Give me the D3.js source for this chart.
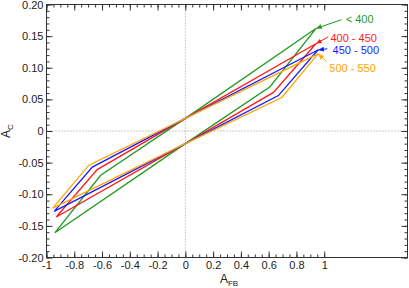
<!DOCTYPE html>
<html>
<head>
<meta charset="utf-8">
<script src="https://cdn.jsdelivr.net/npm/d3@7"></script>
<style>
  body { margin: 0; background: #fff; }
  svg text { font-family: "Liberation Sans", Arial, sans-serif; }
</style>
</head>
<body>
<div id="chart"></div>
<script>
// series names and loop points [A_FB, A_C]
var series_names = ['< 400', '400 - 450', '450 - 500', '500 - 550'];
var loop_lt400 = [[-0.94, -0.161], [-0.61, -0.070], [0, 0.02], [0.94, 0.162], [0.61, 0.070], [0, -0.02], [-0.94, -0.161]];
var loop_400_450 = [[-0.93, -0.136], [-0.635, -0.061], [0, 0.02], [0.94, 0.138], [0.635, 0.061], [0, -0.02], [-0.93, -0.136]];
var loop_450_500 = [[-0.945, -0.127], [-0.67, -0.057], [0, 0.02], [0.955, 0.128], [0.67, 0.056], [0, -0.02], [-0.945, -0.127]];
var loop_500_550 = [[-0.955, -0.122], [-0.695, -0.054], [0, 0.02], [0.955, 0.122], [0.695, 0.053], [0, -0.02], [-0.955, -0.122]];

// label positions and arrow tails (data units); arrow heads point at each loop's upper-right corner
var label_pos = [[1.155, 0.171], [1.045, 0.141], [1.06, 0.121], [1.037, 0.094]];
var arrow_tail = [[1.125, 0.176], [1.03, 0.149], [1.023, 0.130], [1.016, 0.110]];
var arrow_tip = [[0.94, 0.162], [0.94, 0.138], [0.955, 0.128], [0.955, 0.122]];

var x_ticks = [-1, -0.8, -0.6, -0.4, -0.2, 0, 0.2, 0.4, 0.6, 0.8, 1];
var x_tick_labels = ['-1', '-0.8', '-0.6', '-0.4', '-0.2', '0', '0.2', '0.4', '0.6', '0.8', '1'];
var y_ticks = [0.2, 0.15, 0.1, 0.05, 0, -0.05, -0.1, -0.15, -0.2];
var y_tick_labels = ['0.20', '0.15', '0.10', '0.05', '0', '-0.05', '-0.10', '-0.15', '-0.20'];

var loops = [loop_lt400, loop_400_450, loop_450_500, loop_500_550];
var colors = ['#1f9a1f', '#ff1a1a', '#1a1aff', '#ffa500'];

var width = 409, height = 288;
var plot = { left: 46.5, right: 407.5, top: 4.5, bottom: 257.5 };

var svg = d3.select('#chart')
    .append('svg')
    .attr('width', width)
    .attr('height', height);

var x = d3.scaleLinear().domain([-1, 1.6]).range([plot.left, plot.right]);
var y = d3.scaleLinear().domain([-0.2, 0.2]).range([plot.bottom, plot.top]);

var x_minor = d3.range(-1, 1.0001, 0.05).map(function(v) { return +v.toFixed(2); });
var y_minor = d3.range(-0.2, 0.2001, 0.01).map(function(v) { return +v.toFixed(2); });

// zero lines
svg.append('line')
    .attr('x1', x(0)).attr('x2', x(0))
    .attr('y1', plot.top).attr('y2', plot.bottom)
    .attr('stroke', '#777').attr('stroke-width', 0.8)
    .attr('stroke-dasharray', '1,2');
svg.append('line')
    .attr('x1', plot.left).attr('x2', plot.right)
    .attr('y1', y(0)).attr('y2', y(0))
    .attr('stroke', '#777').attr('stroke-width', 0.8)
    .attr('stroke-dasharray', '1,2');

function style_axis(g) {
    g.select('.domain').remove();
    g.selectAll('line').attr('stroke', '#333');
    g.selectAll('text').style('font-size', '11px').attr('fill', '#222')
        .style('font-family', '"Liberation Sans", Arial, sans-serif');
}

// bottom
svg.append('g').attr('transform', `translate(0, ${plot.bottom})`)
    .call(d3.axisBottom(x).tickValues(x_minor).tickSize(-3).tickFormat(''))
    .call(style_axis);
svg.append('g').attr('transform', `translate(0, ${plot.bottom})`)
    .call(d3.axisBottom(x).tickValues(x_ticks).tickSize(-6).tickPadding(4)
        .tickFormat(function(d, i) { return x_tick_labels[i]; }))
    .call(style_axis);
// top
svg.append('g').attr('transform', `translate(0, ${plot.top})`)
    .call(d3.axisTop(x).tickValues(x_minor).tickSize(-3).tickFormat(''))
    .call(style_axis);
svg.append('g').attr('transform', `translate(0, ${plot.top})`)
    .call(d3.axisTop(x).tickValues(x_ticks).tickSize(-6).tickFormat(''))
    .call(style_axis);
// left
svg.append('g').attr('transform', `translate(${plot.left}, 0)`)
    .call(d3.axisLeft(y).tickValues(y_minor).tickSize(-3).tickFormat(''))
    .call(style_axis);
svg.append('g').attr('transform', `translate(${plot.left}, 0)`)
    .call(d3.axisLeft(y).tickValues(y_ticks).tickSize(-6).tickPadding(3)
        .tickFormat(function(d, i) { return y_tick_labels[i]; }))
    .call(style_axis);
// right
svg.append('g').attr('transform', `translate(${plot.right}, 0)`)
    .call(d3.axisRight(y).tickValues(y_minor).tickSize(-3).tickFormat(''))
    .call(style_axis);
svg.append('g').attr('transform', `translate(${plot.right}, 0)`)
    .call(d3.axisRight(y).tickValues(y_ticks).tickSize(-6).tickFormat(''))
    .call(style_axis);

// frame
svg.append('rect')
    .attr('x', plot.left).attr('y', plot.top)
    .attr('width', plot.right - plot.left).attr('height', plot.bottom - plot.top)
    .attr('fill', 'none').attr('stroke', '#333').attr('stroke-width', 1);

// loops
var line = d3.line().x(function(d) { return x(d[0]); }).y(function(d) { return y(d[1]); });

svg.append('g')
    .selectAll('path')
    .data(loops)
    .enter()
    .append('path')
    .attr('d', line)
    .attr('fill', 'none')
    .attr('stroke', function(d, i) { return colors[i]; })
    .attr('stroke-width', 1.3)
    .attr('stroke-linejoin', 'miter');

// arrow markers
var defs = svg.append('defs');
colors.forEach(function(c, i) {
    defs.append('marker')
        .attr('id', 'arrow' + i)
        .attr('viewBox', '0 0 10 10')
        .attr('refX', 10).attr('refY', 5)
        .attr('markerWidth', 6).attr('markerHeight', 6)
        .attr('markerUnits', 'userSpaceOnUse')
        .attr('orient', 'auto')
        .append('path')
        .attr('d', 'M0,1 L10,5 L0,9 Z')
        .attr('fill', c);
});

var notes = svg.append('g');
series_names.forEach(function(name, i) {
    notes.append('line')
        .attr('x1', x(arrow_tail[i][0])).attr('y1', y(arrow_tail[i][1]))
        .attr('x2', x(arrow_tip[i][0])).attr('y2', y(arrow_tip[i][1]))
        .attr('stroke', colors[i]).attr('stroke-width', 1)
        .attr('marker-end', 'url(#arrow' + i + ')');
    notes.append('text')
        .attr('x', x(label_pos[i][0])).attr('y', y(label_pos[i][1]))
        .attr('fill', colors[i])
        .style('font-size', '11px')
        .text(name);
});

// axis titles
var xt = svg.append('text')
    .attr('x', (plot.left + plot.right) / 2 + 2)
    .attr('y', 283)
    .attr('text-anchor', 'middle')
    .attr('fill', '#222')
    .style('font-size', '12px');
xt.append('tspan').text('A');
xt.append('tspan').attr('dy', 3).style('font-size', '8px').text('FB');

var yt = svg.append('text')
    .attr('transform', `translate(10, ${(plot.top + plot.bottom) / 2}) rotate(-90)`)
    .attr('text-anchor', 'middle')
    .attr('fill', '#222')
    .style('font-size', '12px');
yt.append('tspan').text('A');
yt.append('tspan').attr('dy', 3).style('font-size', '8px').text('C');
</script>
</body>
</html>
